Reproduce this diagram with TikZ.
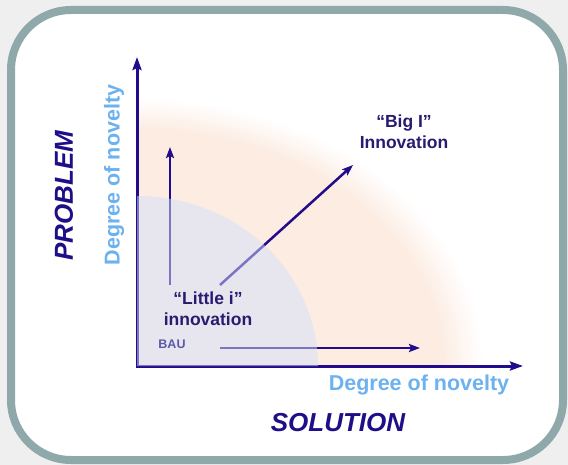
\documentclass[tikz,border=0pt]{standalone}
\usepackage{fontspec}
\setmainfont{Liberation Sans}
\usetikzlibrary{arrows.meta}
\definecolor{bggrey}{RGB}{239,239,239}
\definecolor{framegrey}{RGB}{143,169,171}
\definecolor{axisnavy}{RGB}{34,12,140}
\definecolor{textnavy}{RGB}{40,28,112}
\definecolor{titlenavy}{RGB}{30,14,135}
\definecolor{novblue}{RGB}{108,178,240}
\definecolor{baublue}{RGB}{92,90,168}
\definecolor{peach}{RGB}{252,236,226}
\definecolor{lavender}{RGB}{212,224,250}
\pgfdeclareradialshading{peachglow}{\pgfpoint{0bp}{0bp}}{color(0bp)=(peach); color(22bp)=(peach); color(25bp)=(white); color(50bp)=(white)}
\begin{document}
\begin{tikzpicture}[x=1pt, y=-1pt,
	axes/.style = {line width=3pt, draw=axisnavy, {Stealth[length=13pt, width=9pt, inset=2pt]}-{Stealth[length=13pt, width=9pt, inset=2pt]}},
	arr/.style = {line width=2.5pt, draw=axisnavy, -{Stealth[length=11pt, width=8pt, inset=2pt]}},
	lbl/.style = {font=\bfseries\fontsize{17.5}{21}\selectfont, text=textnavy, align=center, inner sep=0pt},
	novlbl/.style = {font=\bfseries\fontsize{21.5}{24}\selectfont, text=novblue, inner sep=0pt},
	bigtitle/.style = {font=\bfseries\itshape\fontsize{26}{30}\selectfont, text=titlenavy, inner sep=0pt}]
		\useasboundingbox (0,0) rectangle (568,465);
		% Tausta
		\fill[bggrey] (0,0) rectangle (568,465);
		\draw[framegrey, line width=8pt, fill=white, rounded corners=60pt] (11,10) rectangle (563,460);
		% Pisteet
		\coordinate (origin) at (137,366);
		\coordinate (ytip) at (137,57);
		\coordinate (xtip) at (523,366);
		\coordinate (littlestart) at (170,285);
		\coordinate (littletip) at (170,147);
		\coordinate (bigstart) at (220,285);
		\coordinate (bigtip) at (353,165);
		\coordinate (baustart) at (220,348);
		\coordinate (bautip) at (420,348);
		% Alueet
		\begin{scope}
			\clip (137,366) rectangle (556,20);
			\shade[shading=peachglow] (origin) ellipse [x radius=346, y radius=268];
		\end{scope}
		% Nuolet
		\draw[axes] (ytip) -- (origin) -- (xtip);
		\draw[arr] (littlestart) -- (littletip);	% little i
		\draw[arr] (bigstart) -- (bigtip);	% big I
		\draw[arr] (baustart) -- (bautip);	% BAU
		\fill[lavender, opacity=0.5] (origin) -- (318,366) arc[start angle=0, end angle=-90, x radius=181, y radius=170] -- cycle;
		% Tekstit
		\node[bigtitle, rotate=90] (problemlbl) at (64,196) {PROBLEM};
		\node[novlbl, rotate=90] (ynov) at (114,175) {Degree of novelty};
		\node[novlbl] (xnov) at (419,385) {Degree of novelty};
		\node[bigtitle] (solutionlbl) at (338,423) {SOLUTION};
		\node[lbl] (bigi) at (404,132) {“Big I”\\Innovation};
		\node[lbl] (littlei) at (208,309) {“Little i”\\innovation};
		\node[lbl, font=\bfseries\fontsize{12.5}{14}\selectfont, text=baublue] (bau) at (172,344) {BAU};
\end{tikzpicture}
\end{document}
